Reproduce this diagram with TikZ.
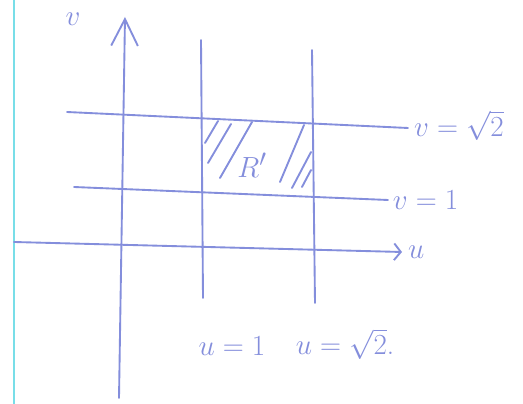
\documentclass[tikz,border=0pt]{standalone}
\usetikzlibrary{arrows.meta}

\definecolor{penblue}{RGB}{132,142,220}
\definecolor{margincyan}{RGB}{120,222,232}

\begin{document}
\begin{tikzpicture}[
        x=0.03cm, y=-0.03cm,
        pen/.style={draw=penblue, line width=1.6pt, line cap=round},
        hatch/.style={pen, line width=1.6pt},
        lbl/.style={text=penblue, font=\Huge, inner sep=1pt},
        axis head/.style={-{Straight Barb[length=8mm,width=8mm,line width=1.6pt]}},
        small head/.style={-{Straight Barb[length=2mm,width=5mm,line width=1.6pt]}}
    ]
    \useasboundingbox (0,0) rectangle (523,404);
    \fill[white] (0,0) rectangle (523,404);
    % margin of the paper
    \draw[margincyan, line width=1.2pt] (14,0) -- (14,404);

    % axes
    \coordinate (vbot) at (119,398);
    \coordinate (vtop) at (125,17);
    \coordinate (uleft) at (14,242);
    \coordinate (uright) at (402,252);
    \draw[pen, axis head] (vbot) -- (vtop);
    \draw[pen, small head] (uleft) -- (uright);
    \node[lbl] (vlabel) at (73,19) {$v$};
    \node[lbl, right=4pt] (ulabel) at (uright) {$u$};

    % grid lines
    \coordinate (uonetop) at (201,40);
    \coordinate (uonebot) at (203,298);
    \coordinate (usqtop) at (312,50);
    \coordinate (usqbot) at (315,303);
    \coordinate (vsqleft) at (67,112);
    \coordinate (vsqright) at (408,128);
    \coordinate (voneleft) at (74,187);
    \coordinate (voneright) at (388,200);
    \draw[pen] (uonetop) -- (uonebot);
    \draw[pen] (usqtop) -- (usqbot);
    \draw[pen] (vsqleft) -- (vsqright);
    \draw[pen] (voneleft) -- (voneright);

    % labels of the lines
    \node[lbl, anchor=west, xshift=4pt, yshift=2pt] (vsq) at (vsqright) {$v=\sqrt{2}$};
    \node[lbl, anchor=west, xshift=3pt] (vone) at (voneright) {$v=1$};
    \node[lbl] (uone) at (232,346) {$u=1$};
    \node[lbl] (usq) at (345,344) {$u=\sqrt{2}$.};

    % the region R'
    \foreach \xa/\ya/\xb/\yb in {205/143/218/121, 208/163/231/124, 220/178/252/122,
                                  280/182/304/125, 292/188/311/152, 302/187/311/170}
        \draw[hatch] (\xa,\ya) -- (\xb,\yb);
    \node[lbl] (region) at (252,165) {$R'$};
\end{tikzpicture}
\end{document}
